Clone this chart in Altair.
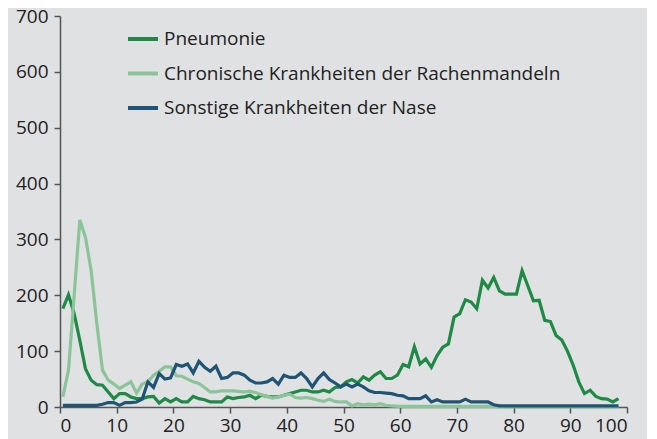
import altair as alt
import pandas as pd

ages = list(range(99))

series_names = ["Pneumonie", "Chronische Krankheiten der Rachenmandeln", "Sonstige Krankheiten der Nase"]
series_colors = ["#1f8a45", "#8cc49a", "#1f5475"]

pneumonie = [176, 201, 167, 119, 68, 48, 40, 39, 27, 15,
             24, 24, 18, 15, 15, 18, 19, 7, 15, 9,
             15, 9, 9, 19, 15, 13, 9, 9, 9, 18,
             15, 17, 18, 21, 15, 21, 19, 18, 18, 21,
             24, 27, 30, 30, 27, 27, 30, 27, 35, 36,
             45, 49, 43, 54, 48, 57, 63, 51, 51, 57,
             76, 72, 108, 77, 86, 71, 92, 107, 113, 161,
             167, 192, 188, 176, 227, 213, 232, 208, 202, 202,
             202, 244, 217, 190, 191, 155, 153, 128, 120, 100,
             75, 45, 24, 30, 19, 15, 14, 9, 15]

rachenmandeln = [18, 66, 200, 335, 303, 244, 149, 66, 48, 41,
                 33, 39, 45, 25, 41, 45, 57, 64, 72, 72,
                 56, 55, 50, 45, 42, 35, 27, 27, 29, 29,
                 29, 28, 27, 28, 26, 22, 19, 16, 18, 21,
                 23, 17, 16, 17, 15, 12, 10, 14, 10, 9,
                 9, 2, 6, 4, 5, 4, 6, 3, 2, 1,
                 1, 1, 1, 1, 1, 1, 1, 1, 1, 1,
                 1, 1, 1, 1, 1, 1, 1, 0, 0, 0,
                 0, 0, 0, 0, 0, 0, 0, 0, 0, 0,
                 0, 0, 0, 0, 0, 0, 0, 0, 0]

nase = [3, 3, 3, 3, 3, 3, 3, 5, 8, 8,
        3, 8, 8, 9, 14, 45, 35, 60, 50, 52,
        76, 73, 77, 61, 82, 71, 64, 73, 51, 53,
        61, 61, 57, 48, 43, 43, 45, 51, 41, 57,
        53, 53, 61, 51, 36, 51, 61, 49, 43, 36,
        41, 36, 41, 36, 29, 26, 26, 25, 24, 21,
        20, 15, 15, 15, 20, 9, 13, 9, 9, 9,
        9, 14, 9, 9, 9, 9, 4, 2, 2, 2,
        2, 2, 2, 2, 2, 2, 2, 2, 2, 2,
        2, 2, 2, 2, 2, 2, 2, 2, 2]

x_ticks = [0, 10, 20, 30, 40, 50, 60, 70, 80, 90, 100]
y_ticks = [0, 100, 200, 300, 400, 500, 600, 700]

rows = []
for name, vals in zip(series_names, [pneumonie, rachenmandeln, nase]):
    for a, v in zip(ages, vals):
        rows.append({"age": a, "value": v, "series": name})
df = pd.DataFrame(rows)

FONT = "Open Sans"
TXT = "#222222"
AX = "#555555"

chart = alt.Chart(df).transform_calculate(
    xpos="datum.age + 0.5"
).mark_line(strokeWidth=3.2, strokeJoin="miter").encode(
    x=alt.X("xpos:Q",
            scale=alt.Scale(domain=[0, 100], nice=False, zero=False),
            axis=alt.Axis(values=x_ticks, title=None, grid=False, domainColor=AX,
                          tickColor=AX, tickSize=6, labelFontSize=19, labelColor=TXT,
                          labelFont=FONT, labelPadding=3, domainWidth=1.5, tickWidth=1.5)),
    y=alt.Y("value:Q",
            scale=alt.Scale(domain=[0, 700], nice=False),
            axis=alt.Axis(values=y_ticks, title=None, grid=False, domainColor=AX,
                          tickColor=AX, tickSize=6, labelFontSize=19, labelColor=TXT,
                          labelFont=FONT, labelPadding=6, domainWidth=1.5, tickWidth=1.5)),
    color=alt.Color("series:N",
                    scale=alt.Scale(domain=series_names, range=series_colors),
                    legend=alt.Legend(title=None, orient="none", legendX=66, legendY=6,
                                      symbolType="stroke", symbolSize=900, symbolStrokeWidth=4,
                                      labelFontSize=19, labelFont=FONT, labelColor=TXT,
                                      labelOffset=4, rowPadding=7.5, padding=0,
                                      labelLimit=600)),
    detail="series:N",
).properties(
    width=567, height=391,
    background="#e0e1e3",
    padding={"left": 52, "top": 8, "right": 20, "bottom": 32},
    autosize=alt.AutoSizeParams(type="none"),
).configure_view(stroke=None)

chart.save("out.html", embed_options={"renderer": "svg", "actions": False})
